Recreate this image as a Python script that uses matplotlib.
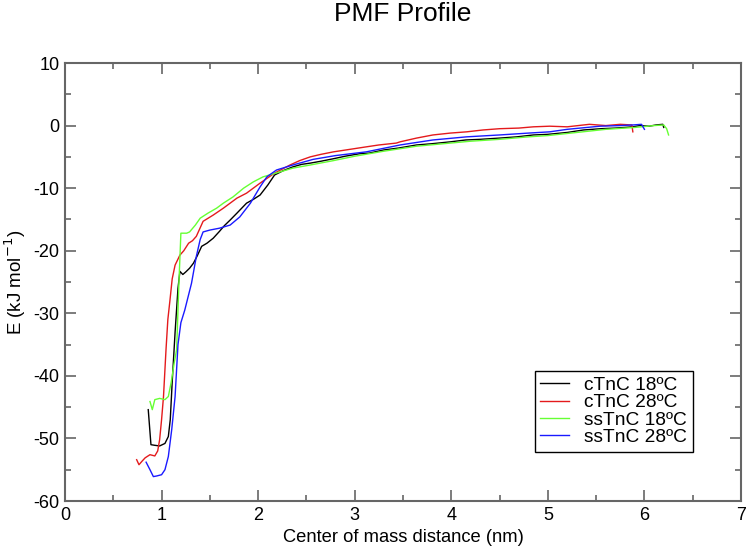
import matplotlib
matplotlib.use("Agg")
import matplotlib.pyplot as plt
from matplotlib.ticker import MultipleLocator

plt.rcParams['font.family'] = ['Liberation Sans', 'DejaVu Sans']
plt.rcParams['axes.unicode_minus'] = False

# cTnC 18ºC
c18_x = [0.862, 0.89, 0.93, 0.98, 1.035, 1.07, 1.09, 1.11, 1.14, 1.17, 1.19, 1.22, 1.25, 1.29, 1.33,
         1.37, 1.415, 1.47, 1.535, 1.6, 1.65, 1.71, 1.78, 1.83, 1.88, 1.95, 2.02, 2.1, 2.17, 2.26,
         2.36, 2.45, 2.54, 2.65, 2.78, 2.9, 3.05, 3.15, 3.3, 3.45, 3.64, 3.8, 3.99, 4.15, 4.3, 4.5,
         4.68, 4.85, 5.0, 5.2, 5.37, 5.55, 5.7, 5.88, 5.95, 6.05, 6.12, 6.19, 6.2]
c18_y = [-45.4, -51.0, -51.1, -51.2, -50.8, -49.7, -47.0, -41.0, -33.0, -26.0, -23.3, -23.8, -23.4,
         -22.8, -22.0, -20.8, -19.3, -18.8, -18.0, -16.9, -16.0, -15.1, -14.0, -13.2, -12.4, -11.8,
         -11.1, -9.5, -7.9, -7.2, -6.6, -6.2, -6.0, -5.7, -5.3, -4.9, -4.5, -4.4, -3.9, -3.6, -3.1,
         -2.9, -2.6, -2.3, -2.2, -2.0, -1.8, -1.5, -1.4, -1.1, -0.7, -0.5, -0.4, -0.2, 0.0, -0.1,
         0.1, 0.2, -0.3]

# cTnC 28ºC
c28_x = [0.742, 0.766, 0.8, 0.83, 0.88, 0.93, 0.96, 0.98, 1.0, 1.02, 1.046, 1.065, 1.087, 1.11,
         1.14, 1.19, 1.23, 1.28, 1.32, 1.36, 1.43, 1.535, 1.64, 1.78, 1.88, 2.02, 2.17, 2.33, 2.43,
         2.54, 2.65, 2.78, 2.95, 3.12, 3.25, 3.43, 3.47, 3.64, 3.81, 3.99, 4.16, 4.33, 4.5, 4.7,
         4.85, 5.02, 5.2, 5.43, 5.6, 5.75, 5.87, 5.88]
c28_y = [-53.4, -54.2, -53.6, -53.1, -52.6, -52.8, -52.0, -50.2, -47.0, -43.3, -35.8, -31.0, -27.9,
         -24.5, -22.3, -20.7, -20.0, -18.8, -18.4, -17.7, -15.3, -14.3, -13.2, -11.6, -10.8, -9.2,
         -7.6, -6.3, -5.6, -5.0, -4.6, -4.2, -3.8, -3.4, -3.1, -2.8, -2.6, -2.0, -1.5, -1.2, -1.0,
         -0.7, -0.5, -0.4, -0.2, -0.1, -0.2, 0.2, 0.0, 0.2, 0.1, -1.0]

# ssTnC 18ºC
s18_x = [0.88, 0.904, 0.93, 0.98, 1.035, 1.07, 1.1, 1.13, 1.156, 1.18, 1.2, 1.26, 1.29, 1.35, 1.40,
         1.48, 1.57, 1.64, 1.74, 1.85, 1.95, 2.05, 2.16, 2.36, 2.54, 2.78, 3.0, 3.3, 3.64, 3.99,
         4.2, 4.5, 4.8, 5.0, 5.3, 5.6, 5.9, 6.1, 6.2, 6.23, 6.25]
s18_y = [-44.1, -45.4, -43.8, -43.6, -43.8, -43.3, -41.0, -38.0, -35.8, -25.0, -17.2, -17.2, -17.0,
         -15.9, -14.8, -14.0, -13.2, -12.4, -11.4, -10.0, -9.0, -8.2, -7.7, -6.8, -6.3, -5.6, -4.9,
         -4.1, -3.3, -2.8, -2.5, -2.2, -1.8, -1.6, -1.1, -0.6, -0.3, 0.0, 0.1, -0.5, -1.5]

# ssTnC 28ºC
s28_x = [0.84, 0.88, 0.915, 0.95, 1.0, 1.035, 1.07, 1.105, 1.14, 1.17, 1.2, 1.24, 1.31, 1.36, 1.40,
         1.43, 1.50, 1.60, 1.71, 1.81, 1.92, 2.02, 2.09, 2.19, 2.36, 2.57, 2.8, 3.12, 3.47, 3.81,
         4.16, 4.5, 4.8, 5.02, 5.2, 5.54, 5.75, 5.88, 5.97, 6.0]
s28_y = [-53.8, -55.0, -56.1, -56.0, -55.8, -55.0, -52.9, -48.6, -43.3, -35.0, -31.5, -29.5, -25.2,
         -20.9, -18.2, -17.0, -16.7, -16.4, -15.9, -14.6, -12.4, -9.8, -8.2, -7.1, -6.3, -5.4, -4.8,
         -4.2, -3.1, -2.3, -1.8, -1.5, -1.2, -1.0, -0.6, -0.1, 0.0, 0.1, 0.2, -0.6]

labels = ["cTnC 18ºC", "cTnC 28ºC", "ssTnC 18ºC", "ssTnC 28ºC"]
colors = ["#000000", "#e41a1c", "#66ff33", "#1a1aff"]
series = [(c18_x, c18_y), (c28_x, c28_y), (s18_x, s18_y), (s28_x, s28_y)]

fig = plt.figure(figsize=(7.47, 5.48), dpi=100)
ax = fig.add_axes([65/747, 47/548, 676/747, 438/548])

for (xs, ys), lab, col in zip(series, labels, colors):
    ax.plot(xs, ys, color=col, lw=1.0, label=lab)

ax.set_xlim(0, 7)
ax.set_ylim(-60, 10)
ax.xaxis.set_major_locator(MultipleLocator(1))
ax.xaxis.set_minor_locator(MultipleLocator(0.5))
ax.yaxis.set_major_locator(MultipleLocator(10))
ax.yaxis.set_minor_locator(MultipleLocator(5))

spine_col = "#666666"
for s in ax.spines.values():
    s.set_color(spine_col)
    s.set_linewidth(1.5)
ax.tick_params(which='both', direction='in', top=True, right=True, colors=spine_col,
               labelcolor='black', labelsize=13, width=1.2)
ax.tick_params(which='major', length=8, pad=4)
ax.tick_params(which='minor', length=4)

ax.set_xlabel("Center of mass distance (nm)", fontsize=13.2, labelpad=4)
ax.set_ylabel("E (kJ mol$^{-1}$)", fontsize=13.5, labelpad=4)
fig.suptitle("PMF Profile", fontsize=19, x=403/747, y=1 - 2/548, va='top')

leg = ax.legend(loc='lower right', bbox_to_anchor=(0.929, 0.112), fontsize=13.8,
                fancybox=False, framealpha=1, edgecolor='black', handlelength=1.5,
                handletextpad=0.8, labelspacing=0.0, borderpad=0.3, borderaxespad=0)
leg.get_frame().set_linewidth(1.0)

fig.savefig("out.png", dpi=100)
